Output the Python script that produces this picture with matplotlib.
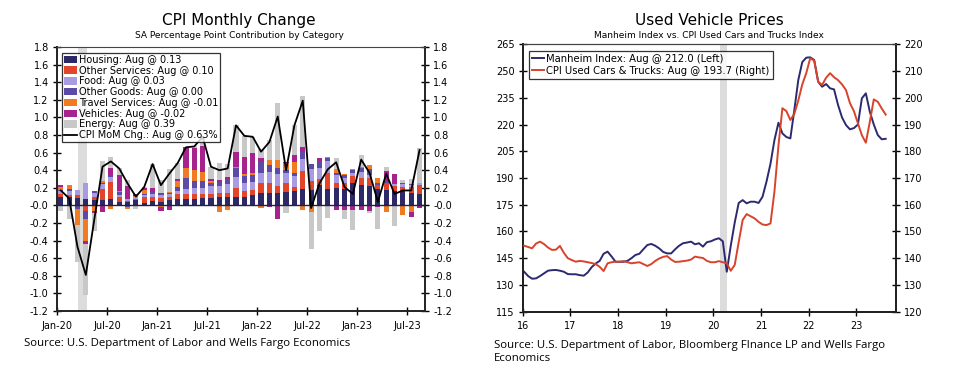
import matplotlib.pyplot as plt
import numpy as np

plt.rcParams['font.family'] = 'DejaVu Sans'

# ---------------- CPI contributions (Jan-20 .. Aug-23) ----------------
housing = [.09, .09, .08, .07, .06, .06, .07, .04, .04, .06, .03, .05,
           .04, .06, .07, .07, .07, .08, .08, .10, .10, .10, .10, .12,
           .14, .14, .14, .15, .16, .19, .18, .23, .19, .20, .19, .25,
           .23, .22, .19, .17, .16, .16, .14, .13]
other_services = [.04, .03, .04, -.06, .03, .13, .20, .05, .01, .01, .07, .05,
                  .04, .04, .06, .06, .06, .05, .05, .04, .04, .10, .06, .05,
                  .12, .11, .08, .10, .05, .20, .10, .07, .18, .06, .06, .08,
                  .08, .09, .04, .09, .06, .05, .07, .10]
food = [.03, .04, .05, .19, .05, .05, .05, .03, .02, .02, .02, .03,
        .04, .03, .03, .06, .07, .07, .09, .08, .10, .12, .09, .10,
        .11, .13, .14, .12, .12, .14, .13, .12, .13, .09, .06, .04,
        .07, .04, .00, .00, .02, .03, .02, .03]
other_goods = [.02, .03, -.04, -.10, .02, .02, .03, .03, -.02, .01, .01, .02,
               .02, .01, .05, .12, .08, .08, .03, .05, .06, .10, .08, .07,
               .12, .08, .06, .03, .04, .08, .06, .09, .04, .02, .04, .03,
               .04, .06, .02, .02, .01, .02, .01, .00]
travel_services = [.03, .04, -.18, -.24, -.06, .02, -.04, .01, -.02, .01, .05, .00,
                   -.02, .01, .07, .12, .12, .10, .03, -.08, -.05, .02, .03, .03,
                   -.03, .06, .10, .08, .12, -.05, -.08, .00, .01, .04, .01, .01,
                   .02, .05, .06, -.08, -.01, -.11, -.08, -.01]
vehicles = [.02, .00, .00, -.04, -.03, -.07, .08, .18, .15, .02, .02, .05,
            -.04, -.05, .02, .23, .25, .30, .02, .02, .02, .17, .19, .23,
            .05, -.02, -.15, .01, .08, .05, .00, .03, -.01, -.05, -.05, -.05,
            -.05, -.06, -.02, .11, .11, .00, -.05, -.02]
energy = [-.06, -.15, -.42, -.58, -.20, .23, .12, .08, .07, -.04, .01, .27,
          .15, .26, .18, .00, .02, .10, .14, .19, .15, .30, .24, .18,
          .10, .22, .64, -.09, .34, .58, -.42, -.29, -.13, .13, -.10, -.23,
          .13, -.03, -.25, .05, -.22, .03, .06, .39]
cpi_mom = [0.17, 0.08, -0.47, -0.79, -0.17, 0.44, 0.50, 0.42, 0.25, 0.10, 0.21, 0.47,
           0.23, 0.36, 0.48, 0.66, 0.67, 0.78, 0.44, 0.40, 0.42, 0.91, 0.79, 0.78,
           0.61, 0.72, 1.01, 0.40, 0.91, 1.19, -0.03, 0.25, 0.41, 0.49, 0.21, 0.13,
           0.52, 0.37, 0.04, 0.36, 0.13, 0.17, 0.17, 0.63]
month_labels = ['Jan-20', 'Jul-20', 'Jan-21', 'Jul-21', 'Jan-22', 'Jul-22', 'Jan-23', 'Jul-23']

series_names = ['Housing: Aug @ 0.13', 'Other Services: Aug @ 0.10', 'Food: Aug @ 0.03',
                'Other Goods: Aug @ 0.00', 'Travel Services: Aug @ -0.01',
                'Vehicles: Aug @ -0.02', 'Energy: Aug @ 0.39']
series_colors = ['#2d2966', '#e2462a', '#a99be2', '#5b4ba6', '#f27b22', '#a5228f', '#c8c8c8']

# ---------------- Used vehicle prices (Jan-16 .. Aug-23) ----------------
manheim = [137.4, 135.0, 133.5, 133.7, 135.0, 136.5, 138.0, 138.3, 138.4, 138.0, 137.4, 136.1,
           136.0, 136.0, 135.5, 135.2, 137.0, 140.0, 142.0, 143.5, 147.5, 148.7, 146.0, 143.0,
           143.0, 143.0, 143.5, 145.0, 146.8, 147.5, 150.0, 152.4, 153.0, 152.0, 150.5, 148.5,
           147.7, 147.7, 150.0, 152.0, 153.4, 153.8, 154.3, 152.8, 153.4, 151.5, 154.0, 154.5,
           155.5, 156.2, 154.5, 137.4, 152.0, 165.0, 176.0, 177.6, 175.8, 176.7, 176.7, 176.0,
           179.5, 188.0, 198.0, 211.3, 221.0, 215.0, 213.0, 212.2, 228.1, 245.0, 255.0, 257.5,
           257.7, 256.2, 244.0, 241.2, 242.7, 240.3, 239.7, 231.0, 224.0, 219.7, 217.3, 218.0,
           220.0, 234.7, 237.5, 227.2, 220.0, 214.1, 211.7, 212.0]
cpi_used = [144.7, 144.2, 143.7, 145.5, 146.2, 145.3, 144.0, 143.1, 143.2, 144.6, 142.0, 140.0,
            139.3, 138.7, 139.0, 138.8, 138.5, 138.2, 137.8, 136.8, 135.2, 138.1, 138.5, 138.7,
            138.7, 138.9, 138.5, 138.1, 138.3, 138.5, 137.8, 137.1, 137.8, 139.0, 139.9, 140.5,
            140.8, 139.5, 138.6, 138.7, 138.9, 139.1, 139.5, 140.6, 140.3, 140.1, 139.0, 138.5,
            138.5, 138.9, 138.5, 138.1, 135.3, 137.5, 146.0, 154.3, 156.5, 155.7, 154.9, 153.6,
            152.6, 152.4, 153.0, 165.0, 182.0, 196.1, 195.0, 191.7, 194.0, 199.0, 205.0, 209.2,
            214.8, 213.9, 206.0, 204.8, 207.5, 209.2, 207.7, 206.6, 205.0, 202.9, 198.0, 195.0,
            190.5, 186.0, 183.2, 191.0, 199.4, 198.5, 196.0, 193.7]
year_labels = ['16', '17', '18', '19', '20', '21', '22', '23']

fig = plt.figure(figsize=(9.57, 3.78), dpi=100)

# ================= Left chart =================
ax = fig.add_axes([0.0596, 0.1772, 0.3845, 0.6985])
x = np.arange(len(cpi_mom))
ax.axvspan(2.1, 3.15, color='#dcdcdc', lw=0, zorder=0)

pos_base = np.zeros(len(x))
neg_base = np.zeros(len(x))
handles = []
for vals, name, col in zip([housing, other_services, food, other_goods,
                            travel_services, vehicles, energy], series_names, series_colors):
    v = np.array(vals)
    pos = np.where(v > 0, v, 0)
    neg = np.where(v < 0, v, 0)
    b = ax.bar(x, pos, 0.62, bottom=pos_base, color=col, lw=0, zorder=2, label=name)
    ax.bar(x, neg, 0.62, bottom=neg_base, color=col, lw=0, zorder=2)
    pos_base += pos
    neg_base += neg
    handles.append(b)
ln, = ax.plot(x, cpi_mom, color='black', lw=1.3, zorder=4, label='CPI MoM Chg.: Aug @ 0.63%')
handles.append(ln)
ax.axhline(0, color='#22203f', lw=1.0, zorder=3)

ax.set_xlim(-0.45, 43.65)
ax.set_ylim(-1.2, 1.8)
ax.set_yticks(np.arange(-1.2, 1.81, 0.2))
ax.set_yticklabels([f'{t:.1f}' for t in np.arange(-1.2, 1.81, 0.2)])
ax.set_xticks(np.arange(0, 43, 6) - 0.45)
ax.set_xticklabels(month_labels)
ax.yaxis.set_ticks_position('both')
ax.tick_params(axis='y', labelright=True, direction='inout', length=6, width=1,
               labelsize=7, pad=3)
ax.tick_params(axis='x', direction='inout', length=6, width=1, labelsize=7, pad=4)
for s in ['left', 'right', 'bottom']:
    ax.spines[s].set_linewidth(1.4)
    ax.spines[s].set_color('#222222')
ax.spines['top'].set_linewidth(0.8)
ax.spines['top'].set_color('#444444')

leg = ax.legend(handles=handles, loc='upper left', bbox_to_anchor=(0.014, 0.978),
                fontsize=7.0, frameon=True, fancybox=False, edgecolor='black',
                borderpad=0.2, labelspacing=0.08, handlelength=1.3, handleheight=0.8,
                handletextpad=0.2, borderaxespad=0)
leg.get_frame().set_linewidth(0.9)
leg.set_zorder(10)

fig.text(0.25, 0.945, 'CPI Monthly Change', ha='center', va='center', fontsize=11)
fig.text(0.25, 0.905, 'SA Percentage Point Contribution by Category', ha='center',
         va='center', fontsize=6.5)
fig.text(0.025, 0.092, 'Source: U.S. Department of Labor and Wells Fargo Economics',
         ha='left', va='center', fontsize=8.2, family='Open Sans')

# ================= Right chart =================
axl = fig.add_axes([0.5462, 0.1754, 0.3901, 0.7074])
axr = axl.twinx()
t = 2016 + np.arange(len(manheim)) / 12 + 0.03
axl.axvspan(2020.13, 2020.29, color='#dcdcdc', lw=0, zorder=0)
l1, = axl.plot(t, manheim, color='#2b2a6e', lw=1.4, zorder=3,
               label='Manheim Index: Aug @ 212.0 (Left)')
l2, = axr.plot(t, cpi_used, color='#d8432b', lw=1.4, zorder=3,
               label='CPI Used Cars & Trucks: Aug @ 193.7 (Right)')

axl.set_xlim(2016, 2023.83)
axl.set_ylim(115, 265)
axl.set_yticks(np.arange(115, 266, 15))
axr.set_ylim(120, 220)
axr.set_yticks(np.arange(120, 221, 10))
axl.set_xticks(np.arange(2016, 2024))
axl.set_xticklabels(year_labels)
axl.tick_params(axis='y', direction='inout', length=6, width=1, labelsize=7, pad=3)
axr.tick_params(axis='y', direction='inout', length=6, width=1, labelsize=7, pad=3)
axl.tick_params(axis='x', direction='inout', length=6, width=1, labelsize=7, pad=4)
for a in (axl, axr):
    for s in ['left', 'right', 'bottom']:
        a.spines[s].set_linewidth(1.4)
        a.spines[s].set_color('#222222')
    a.spines['top'].set_linewidth(0.8)
    a.spines['top'].set_color('#444444')

leg2 = axr.legend(handles=[l1, l2], loc='upper left', bbox_to_anchor=(0.018, 0.975),
                  fontsize=7.2, frameon=True, fancybox=False, edgecolor='black',
                  borderpad=0.3, labelspacing=0.2, handlelength=1.2,
                  handletextpad=0.2, borderaxespad=0)
leg2.get_frame().set_linewidth(0.9)

fig.text(0.741, 0.945, 'Used Vehicle Prices', ha='center', va='center', fontsize=11)
fig.text(0.741, 0.905, 'Manheim Index vs. CPI Used Cars and Trucks Index', ha='center',
         va='center', fontsize=6.5)
fig.text(0.516, 0.068, 'Source: U.S. Department of Labor, Bloomberg FInance LP and Wells Fargo\nEconomics',
         ha='left', va='center', fontsize=8.2, family='Open Sans', linespacing=1.25)

fig.savefig('out.png', dpi=100)
